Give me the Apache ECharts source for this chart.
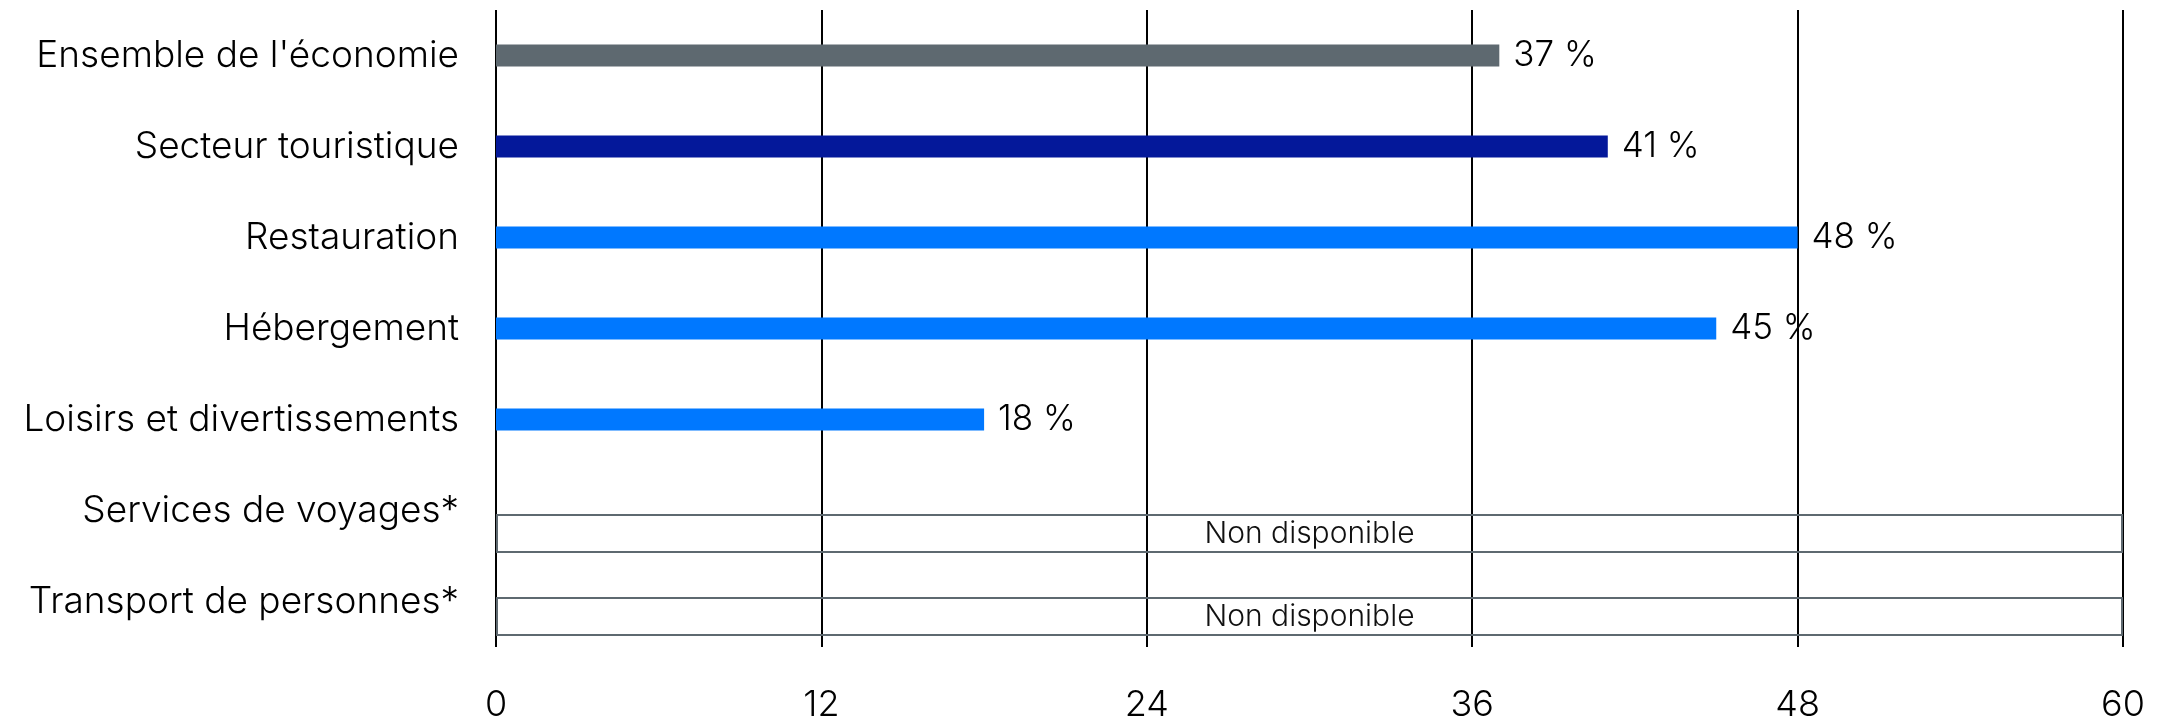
<!DOCTYPE html>
<html>
<head>
    <meta charset="utf-8">
    <title>Ensemble de l'économie</title>
    <script src="https://cdn.jsdelivr.net/npm/echarts@6/dist/echarts.min.js"></script>
    <style>
        html, body { margin: 0; padding: 0; background: #fff; }
        #chart { width: 2167px; height: 723px; }
    </style>
</head>
<body>
<div id="chart"></div>
<script>
// categories, top to bottom
var categories = [
    "Ensemble de l'économie",
    'Secteur touristique',
    'Restauration',
    'Hébergement',
    'Loisirs et divertissements',
    'Services de voyages*',
    'Transport de personnes*'
];
// share (%) per category, null = not available
var values = [37, 41, 48, 45, 18, null, null];
var barColors = ['#5e6970', '#04189a', '#0078ff', '#0078ff', '#0078ff', '#0078ff', '#0078ff'];
var naText = 'Non disponible';
var xTicks = [0, 12, 24, 36, 48, 60];

var xMax = xTicks[xTicks.length - 1];
var fontFam = 'Inter, sans-serif';

// rows without data get a full-width empty box
var naData = values.map(function (v) { return v === null ? xMax : null; });
var barData = values.map(function (v, i) {
    return { value: v, itemStyle: { color: barColors[i] } };
});

var chart = echarts.init(document.getElementById('chart'));
var option = {
    animation: false,
    grid: [
        { left: 496, right: 44, top: 10, height: 648 },
        { left: 496, right: 44, top: 77, height: 581 }
    ],
    xAxis: [{
        gridIndex: 0, type: 'value', min: 0, max: xMax, interval: 12,
        axisLine: { show: false },
        axisTick: { show: false },
        splitLine: { show: true, lineStyle: { color: '#000', width: 2 } },
        axisLabel: { color: '#000', fontSize: 36, fontWeight: 300, fontFamily: fontFam, margin: 40 }
    }, {
        gridIndex: 1, type: 'value', min: 0, max: xMax, show: false
    }],
    yAxis: [{
        gridIndex: 0, type: 'category', inverse: true, data: categories,
        axisLine: { show: false },
        axisTick: { show: false },
        axisLabel: { color: '#000', fontSize: 37, fontWeight: 300, fontFamily: fontFam, margin: 37 }
    }, {
        gridIndex: 1, type: 'category', inverse: true, data: categories, show: false
    }],
    series: [{
        type: 'bar',
        xAxisIndex: 0, yAxisIndex: 0,
        barWidth: 22,
        data: barData,
        label: {
            show: true, position: 'right', distance: 14,
            color: '#000', fontSize: 35, fontWeight: 300, fontFamily: fontFam,
            formatter: function (p) { return p.value + ' %'; }
        }
    }, {
        type: 'bar',
        xAxisIndex: 1, yAxisIndex: 1,
        barWidth: 39,
        data: naData,
        itemStyle: { color: 'rgba(0,0,0,0)', borderColor: '#5e6970', borderWidth: 2 },
        label: {
            show: true, position: 'inside',
            color: '#111', fontSize: 30, fontWeight: 300, fontFamily: fontFam,
            formatter: naText
        }
    }]
};
chart.setOption(option);
</script>
</body>
</html>
